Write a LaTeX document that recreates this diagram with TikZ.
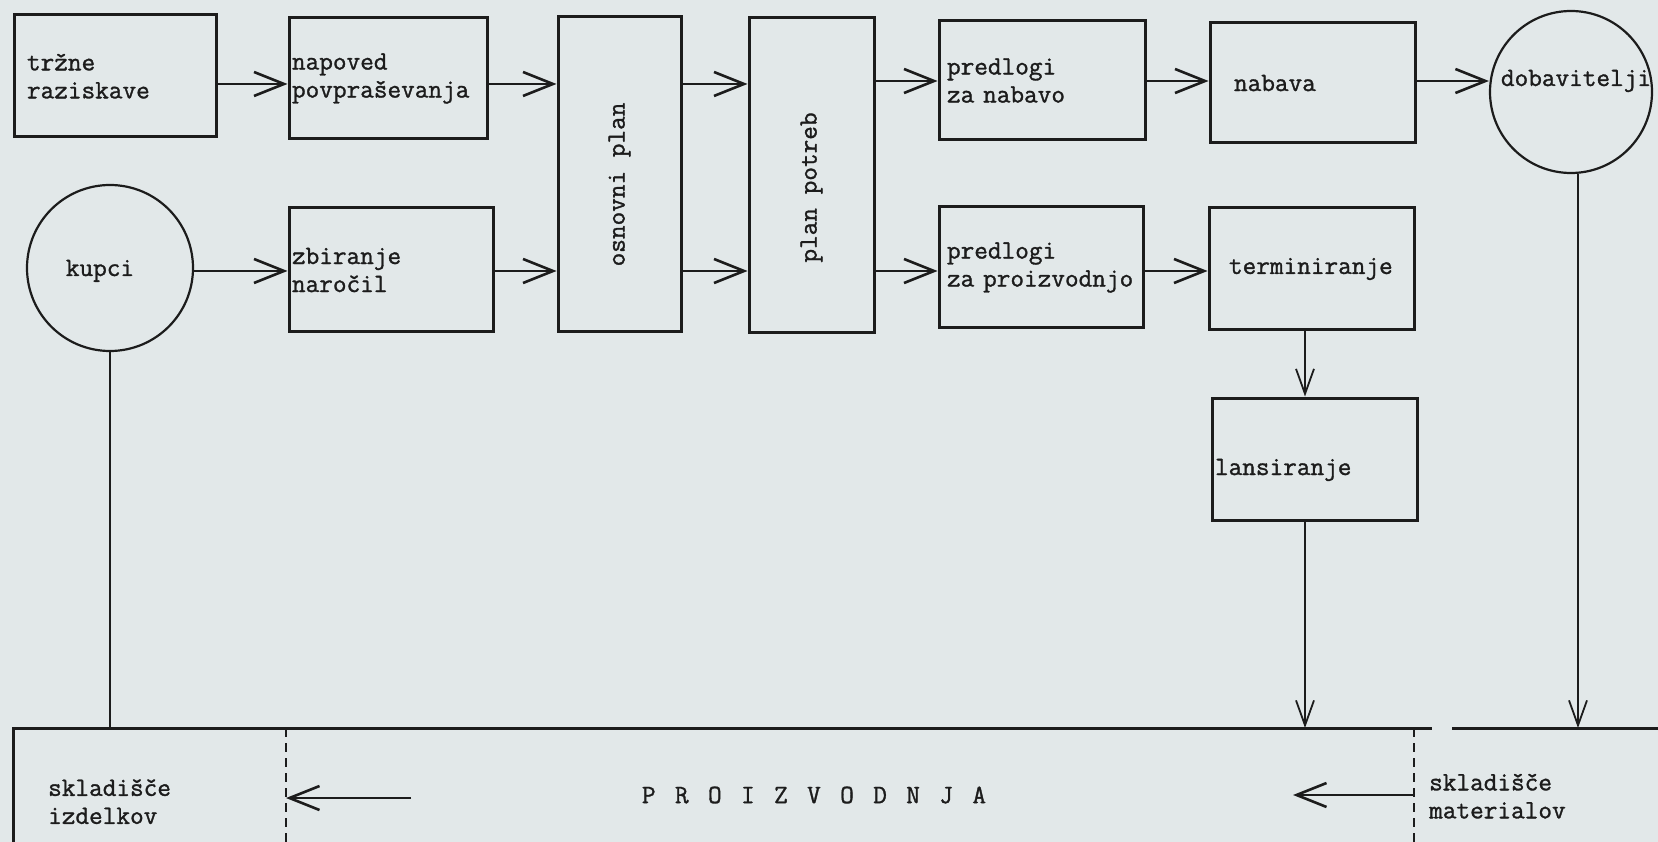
\documentclass[tikz,border=0pt]{standalone}
\usepackage{fontspec}
\usepackage{graphicx}
\newfontfamily\typew[FakeBold=1.2]{Latin Modern Mono}
\usetikzlibrary{arrows.meta,calc}
\definecolor{ink}{RGB}{28,28,28}
\definecolor{paper}{RGB}{226,232,233}
\begin{document}
\begin{tikzpicture}[x=1pt,y=-1pt,
  every node/.style={font=\typew\fontsize{26.5pt}{28pt}\selectfont, text=ink},
  box/.style={draw=ink, line width=3pt, inner ysep=0pt, align=left},
  rnd/.style={draw=ink, circle, line width=2.2pt, inner sep=0pt},
  arr/.style={draw=ink, line width=2.6pt, -{Straight Barb[length=30pt,width=24pt]}},
  varr/.style={draw=ink, line width=1.8pt, -{Straight Barb[length=25pt,width=18pt]}},
  link/.style={draw=ink, line width=1.8pt},
  rulel/.style={draw=ink, line width=3pt},
  dashline/.style={draw=ink, line width=2pt, dash pattern=on 9pt off 6pt},
  plain/.style={inner sep=0pt, align=left}
]
\fill[paper] (0,0) rectangle (1658,842);
\useasboundingbox (0,0) rectangle (1658,842);

% top row
\node[box, minimum width=202pt, minimum height=122pt, text width=176pt, inner xsep=13pt] (A) at (115,76) {tržne\\raziskave};
\node[box, minimum width=198pt, minimum height=121pt, text width=192pt, inner xsep=3pt] (B) at (388,78.5) {napoved\\povpraševanja};
\node[box, minimum width=123pt, minimum height=315pt, align=center] (C) at (619.5,174.5) {\rotatebox{90}{osnovni plan\hspace*{20pt}}};
\node[box, minimum width=125pt, minimum height=315pt, align=center] (D) at (811.5,175.5) {\rotatebox{90}{plan potreb\hspace*{24pt}}};
\node[box, minimum width=206pt, minimum height=119pt, text width=190pt, inner xsep=8pt] (E) at (1042,80.5) {predlogi\\za~nabavo};
\node[box, minimum width=205pt, minimum height=120pt, text width=157pt, inner xsep=24pt] (F) at (1312.5,83) {nabava};
\node[rnd, minimum size=162pt] (G) at (1571,92) {\hspace*{10pt}\raisebox{6pt}[0pt][0pt]{dobavitelji}};

% second row
\node[rnd, minimum size=166pt] (H) at (110,268) {\raisebox{-8pt}[0pt][0pt]{kupci}\hspace*{20pt}};
\node[box, minimum width=204pt, minimum height=124pt, text width=198pt, inner xsep=3pt] (I) at (391,270) {zbiranje\\naročil};
\node[box, minimum width=204pt, minimum height=121pt, text width=188pt, inner xsep=8pt] (J) at (1041,267.5) {predlogi\\za~proizvodnjo};
\node[box, minimum width=205pt, minimum height=122pt, text width=165pt, inner xsep=20pt] (K) at (1311.5,269) {terminiranje};
\node[box, minimum width=205pt, minimum height=122pt, text width=199pt, inner xsep=3pt] (L) at (1314.5,459) {\raisebox{-16pt}[0pt][0pt]{lansiranje}};

% helper coordinates
\coordinate (r1) at (0,84);
\coordinate (r1b) at (0,81);
\coordinate (r2) at (0,271);
\coordinate (hl) at (0,728);
\coordinate (c1) at (1305,0);
\coordinate (c2) at (1578,0);

% top row connectors
\draw[arr] (A.east |- r1) -- (B.west |- r1);
\draw[arr] (B.east |- r1) -- (C.west |- r1);
\draw[arr] (C.east |- r1) -- (D.west |- r1);
\draw[arr] (D.east |- r1b) -- (E.west |- r1b);
\draw[arr] (E.east |- r1b) -- (F.west |- r1b);
\draw[arr] (F.east |- r1b) -- (G.west |- r1b);

% second row connectors
\draw[arr] (H.east |- r2) -- (I.west |- r2);
\draw[arr] (I.east |- r2) -- (C.west |- r2);
\draw[arr] (C.east |- r2) -- (D.west |- r2);
\draw[arr] (D.east |- r2) -- (J.west |- r2);
\draw[arr] (J.east |- r2) -- (K.west |- r2);

% vertical connectors
\draw[varr] (K.south -| c1) -- (L.north -| c1);
\draw[varr] (L.south -| c1) -- (c1 |- hl);
\draw[varr] (G.south -| c2) -- (c2 |- hl);
\draw[link] (H.south) -- (H.south |- hl);

% bottom frame
\coordinate (bl) at (13.6,728);
\coordinate (blb) at (13.6,842);
\coordinate (gapL) at (1432,728);
\coordinate (gapR) at (1452,728);
\coordinate (br) at (1658,728);
\draw[rulel] (blb) -- (bl) -- (gapL);
\draw[rulel] (gapR) -- (br);
\coordinate (d1t) at (286,728);
\coordinate (d1b) at (286,842);
\coordinate (d2t) at (1414,728);
\coordinate (d2b) at (1414,842);
\draw[dashline] (d1t) -- (d1b);
\draw[dashline] (d2t) -- (d2b);

\coordinate (pa1) at (411,798);
\coordinate (pb2) at (1293,795);
\draw[arr] (pa1) -- (d1t |- pa1);
\draw[arr] (d2t |- pb2) -- (pb2);

\node[plain, anchor=west] (S1) at (48,801.5) {skladišče\\izdelkov};
\node[plain] (P) at (814,795) {\spaceskip=19.4pt\relax P R O I Z V O D N J A};
\node[plain, anchor=west] (S2) at (1429,796) {skladišče\\materialov};
\end{tikzpicture}
\end{document}
